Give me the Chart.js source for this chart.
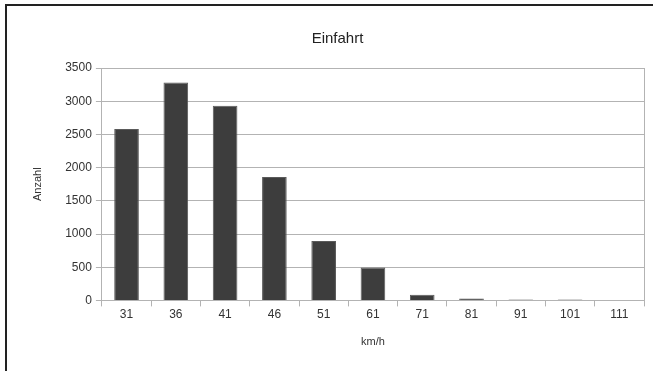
<!DOCTYPE html>
<html>
<head>
<meta charset="utf-8">
<script src="https://cdn.jsdelivr.net/npm/chart.js@4/dist/chart.umd.min.js"></script>
<style>
  body { margin: 0; background: #fff; }
  #wrap { position: relative; width: 653px; height: 371px; }
  #frame { position: absolute; left: 5px; top: 4px; right: 0; bottom: 0;
           border-left: 2px solid #222; border-top: 2px solid #222; }
</style>
</head>
<body>
<div id="wrap">
  <div id="frame"></div>
  <canvas id="myChart" width="653" height="371"></canvas>
</div>
<script>
const speeds = ['31', '36', '41', '46', '51', '61', '71', '81', '91', '101', '111']
const counts = [2580, 3280, 2930, 1860, 895, 495, 85, 28, 14, 14, 0]
const yMax = 3500
const yStep = 500

// grey line on the right edge of the plot area
const plotFrame = {
  id: 'plotFrame',
  afterDraw(chart) {
    const { ctx, chartArea: a } = chart
    ctx.save()
    ctx.strokeStyle = '#b3b3b3'
    ctx.lineWidth = 1
    ctx.beginPath()
    ctx.moveTo(a.right + 0.5, a.top)
    ctx.lineTo(a.right + 0.5, a.bottom + 5)
    ctx.stroke()
    ctx.restore()
  }
}

Chart.defaults.font.family = '"Liberation Sans", Arial, sans-serif'
Chart.defaults.color = '#333'

var ctx = document.getElementById('myChart').getContext('2d')
var myBarChart = new Chart(ctx, {
  type: 'bar',
  data: {
    labels: speeds,
    datasets: [{
      data: counts,
      backgroundColor: '#3d3d3d',
      borderColor: '#5a5a5a',
      borderWidth: 1,
      categoryPercentage: 1,
      barPercentage: 0.5
    }]
  },
  options: {
    responsive: false,
    animation: false,
    layout: { padding: { left: 31, right: 9, top: 30, bottom: 22 } },
    plugins: {
      legend: { display: false },
      tooltip: { enabled: false },
      title: {
        display: true,
        text: 'Einfahrt',
        color: '#222',
        font: { size: 15, weight: 'normal' },
        padding: { top: 0, bottom: 20 }
      }
    },
    scales: {
      x: {
        grid: { drawOnChartArea: false, color: '#b3b3b3', tickLength: 6 },
        border: { color: '#b3b3b3' },
        ticks: { font: { size: 12 }, padding: 1, maxRotation: 0 },
        title: { display: true, text: 'km/h', font: { size: 11 }, padding: { top: 13, bottom: 0 } }
      },
      y: {
        min: 0,
        max: yMax,
        ticks: { stepSize: yStep, font: { size: 12 }, padding: 4, callback: v => String(v) },
        grid: { color: '#b3b3b3', tickLength: 6 },
        border: { color: '#b3b3b3' },
        title: { display: true, text: 'Anzahl', font: { size: 11 }, padding: { top: 0, bottom: 17 } }
      }
    }
  },
  plugins: [plotFrame]
})
</script>
</body>
</html>
